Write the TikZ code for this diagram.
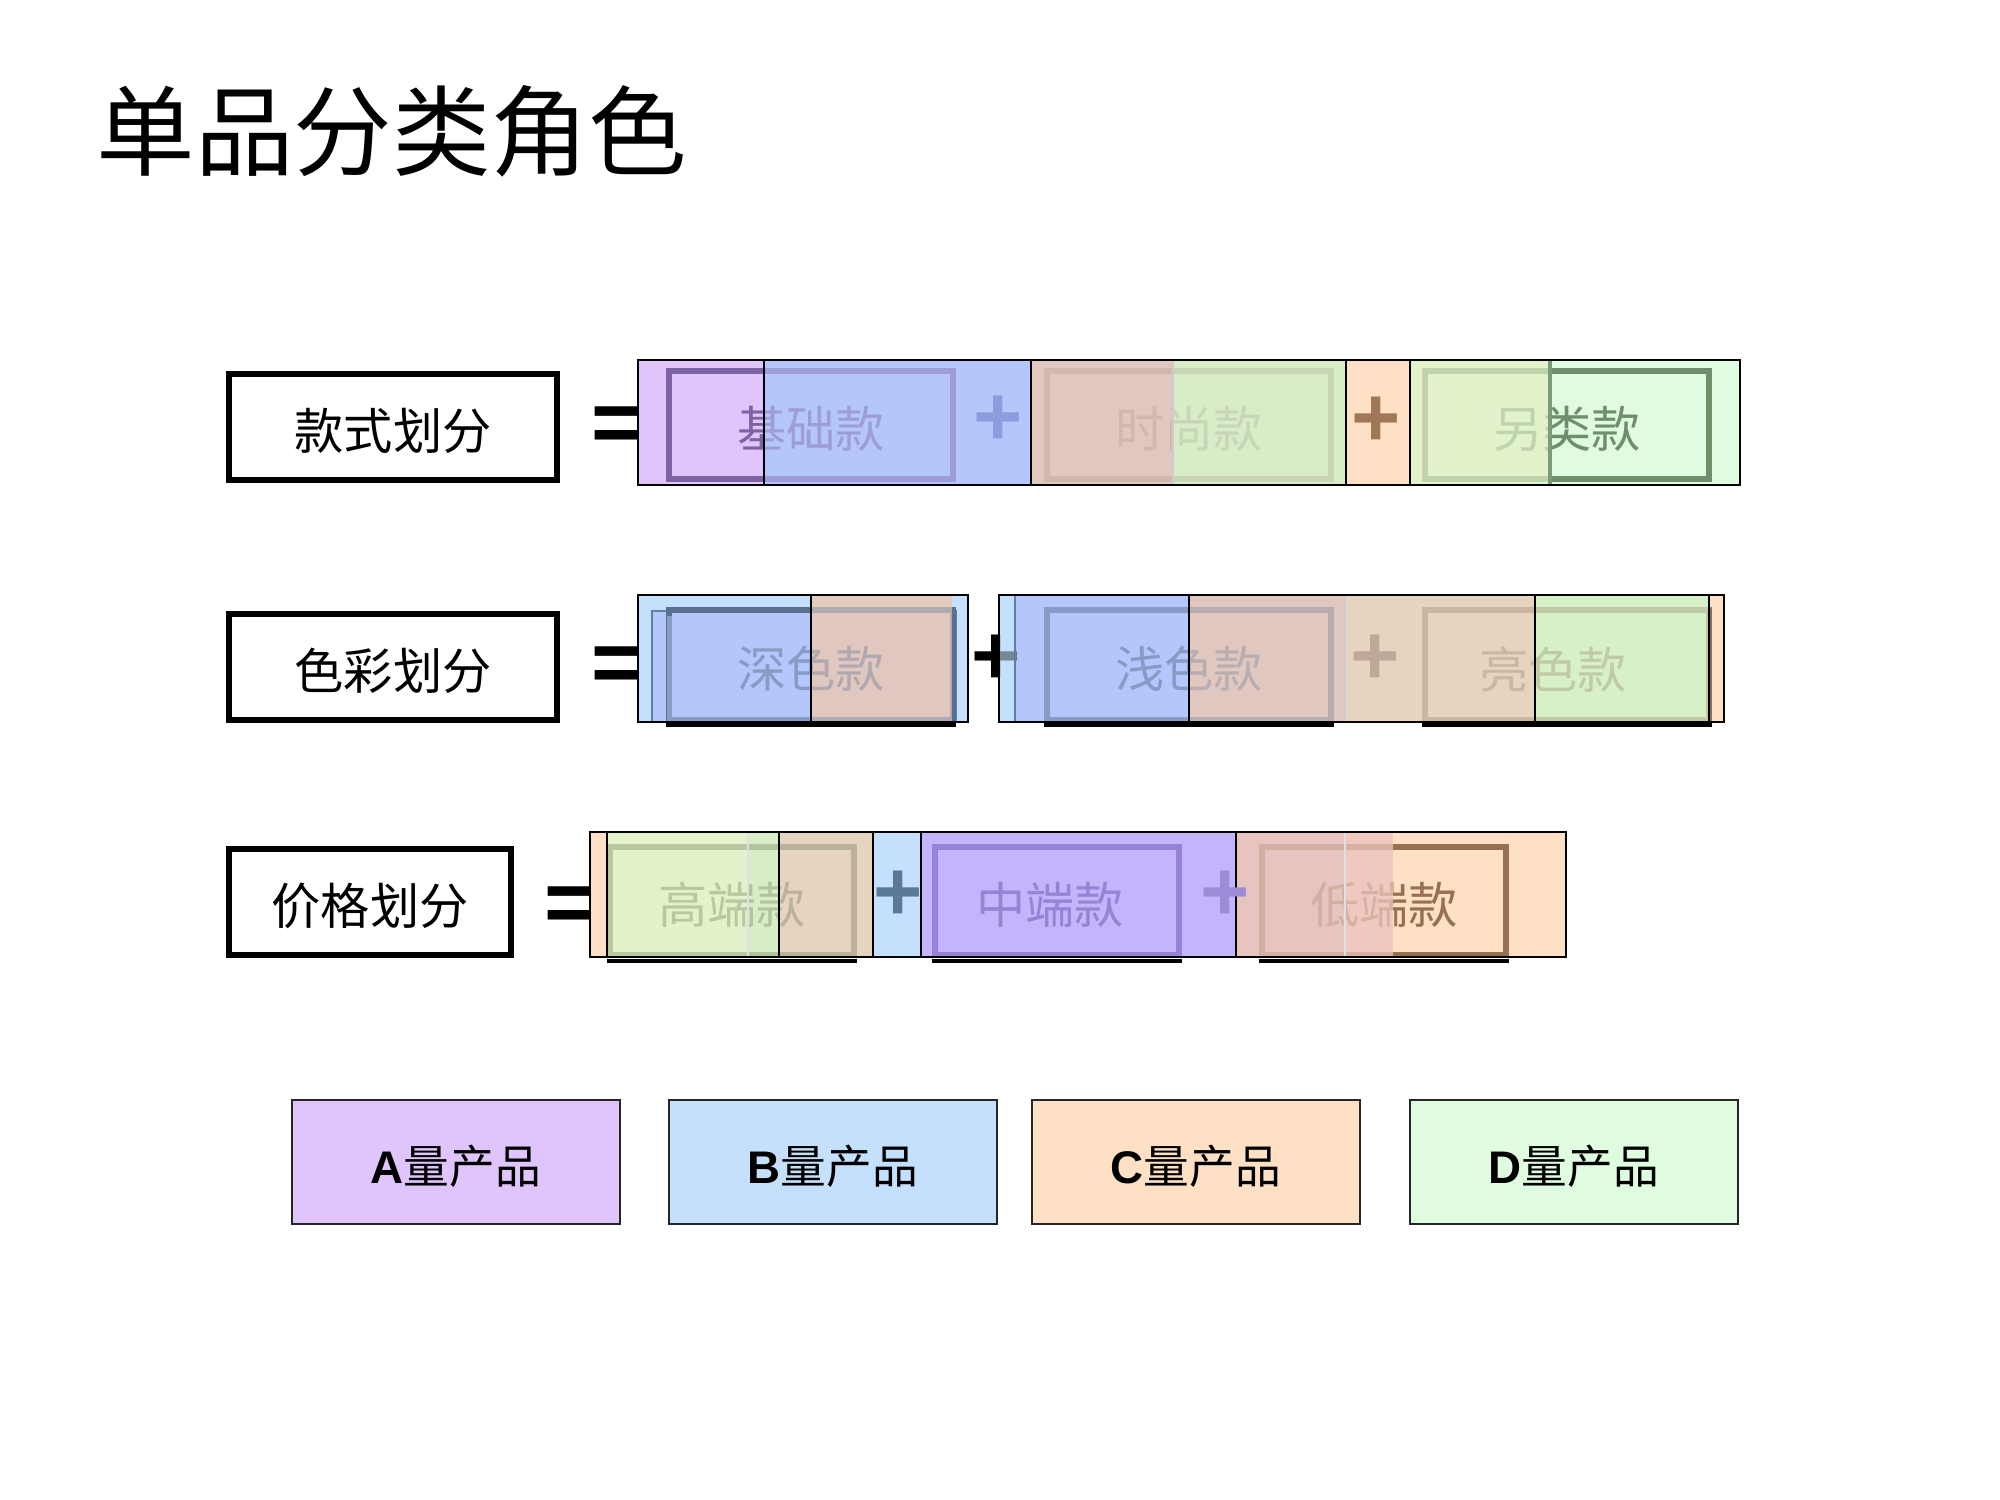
\documentclass[tikz,border=0pt]{standalone}
\usepackage{fontspec}
\setmainfont{Liberation Sans}
\newfontfamily\cjk{Noto Sans CJK SC}
\usetikzlibrary{positioning}

\definecolor{prodA}{HTML}{E0C4FC}
\definecolor{prodB}{HTML}{C4E0FC}
\definecolor{prodC}{HTML}{FEE0C4}
\definecolor{prodD}{HTML}{E0FCE0}
\definecolor{mixBlue}{HTML}{B4C6FB}
\definecolor{mixPink}{HTML}{E0C8C0}
\definecolor{mixGreen}{HTML}{D8ECC8}
\definecolor{mixYellow}{HTML}{E2F2CA}
\definecolor{mixTan}{HTML}{E6D4C0}
\definecolor{mixLime}{HTML}{D8F0C8}
\definecolor{mixPurple}{HTML}{C4B4FC}
\definecolor{mixRose}{HTML}{E8C4C0}
\definecolor{mixRed}{HTML}{F0C8C0}
% ink of the part boxes
\definecolor{inkBasic}{HTML}{7C64A4}
\definecolor{inkFashion}{HTML}{755D55}
\definecolor{inkSpecial}{HTML}{6E8E6C}
\definecolor{inkSteel}{HTML}{5A7090}
\definecolor{inkBright}{HTML}{8A7060}
\definecolor{inkHigh}{HTML}{56663E}
\definecolor{inkMiddle}{HTML}{6A50B0}
\definecolor{inkLow}{HTML}{967050}
\definecolor{lineGreen}{HTML}{7A9A78}
\definecolor{lineSteel}{HTML}{6080A0}
\definecolor{plusBlue}{HTML}{8C9CDE}
\definecolor{plusBrown}{HTML}{A07858}
\definecolor{plusTan}{HTML}{C0A898}
\definecolor{plusSteel}{HTML}{5A7898}
\definecolor{plusPurple}{HTML}{9C8CD8}

% text set a little lower in its box
\newcommand\sinktext[1]{\raisebox{-1.2pt}[\height][\depth]{#1}}

\begin{document}
\begin{tikzpicture}[
    x=0.01cm, y=-0.01cm,
    labelbox/.style={rectangle, draw, line width=1.7pt, minimum height=1.06cm, inner sep=0pt, font=\cjk\fontsize{14}{16}\selectfont},
    partbox/.style={rectangle, draw=#1, text=#1, line width=1.7pt, minimum width=2.83cm, minimum height=1.07cm, inner sep=0pt, font=\cjk\fontsize{14}{16}\selectfont},
    prodbox/.style={rectangle, draw=black!85, line width=0.7pt, fill=#1, minimum width=3.28cm, minimum height=1.24cm, font=\bfseries\fontsize{13}{15}\selectfont},
    eqsign/.style={inner sep=0pt, font=\bfseries\fontsize{25}{25}\selectfont},
    plussign/.style={inner sep=0pt, text=#1, font=\bfseries\fontsize{24}{24}\selectfont},
    wash/.style={fill=#1, fill opacity=0.7},
    stripline/.style={draw, line width=0.7pt},
    divider/.style={line width=0.6pt},
    ]
    \useasboundingbox (0,0) rectangle (2000,1500);

    % Title
    \node[font=\cjk\fontsize{28}{30}\selectfont] (title) at (392,131) {单品分类角色};

    % Row labels
    \node[labelbox, minimum width=3.27cm] (style) at (393,427) {\sinktext{款式划分}};
    \node[labelbox, minimum width=3.27cm] (colour) at (393,667) {\sinktext{色彩划分}};
    \node[labelbox, minimum width=2.81cm] (price) at (370,902) {\sinktext{价格划分}};

    % Equal signs
    \node[eqsign] (eq1) at (617,430) {=};
    \node[eqsign] (eq2) at (617,670) {=};
    \node[eqsign] (eq3) at (570,910) {=};

    % Style row
    \fill[prodA] (638,360) rectangle (764,485);
    \fill[mixBlue] (764,360) rectangle (1031,485);
    \fill[mixPink] (1031,360) rectangle (1173,485);
    \fill[mixGreen] (1173,360) rectangle (1346,485);
    \fill[prodC] (1346,360) rectangle (1410,485);
    \fill[mixYellow] (1410,360) rectangle (1550,485);
    \fill[prodD] (1550,360) rectangle (1740,485);
    \node[partbox=inkBasic] (basic) at (811,425) {\sinktext{基础款}};
    \node[partbox=inkFashion] (fashion) at (1189,425) {\sinktext{时尚款}};
    \node[partbox=inkSpecial] (special) at (1567,425) {\sinktext{另类款}};
    \fill[wash=mixBlue, fill opacity=0.6] (764,360) rectangle (1031,485);
    \fill[wash=mixPink, fill opacity=0.85] (1031,360) rectangle (1173,485);
    \fill[wash=mixGreen, fill opacity=0.85] (1173,360) rectangle (1346,485);
    \fill[wash=mixYellow] (1410,360) rectangle (1550,485);
    \draw[divider] (764,360) -- (764,485);
    \draw[divider] (1031,360) -- (1031,485);
    \draw[divider, draw=black!20] (1173,360) -- (1173,485);
    \draw[divider] (1346,360) -- (1346,485);
    \draw[divider] (1410,360) -- (1410,485);
    \draw[divider, draw=lineGreen, line width=1.2pt] (1550,360) -- (1550,485);
    \draw[stripline] (638,360) rectangle (1740,485);
    \node[plussign=plusBlue] (plus1) at (998,421) {+};
    \node[plussign=plusBrown] (plus2) at (1376,422) {+};

    % Colour row, left part
    \fill[prodB] (638,595) rectangle (968,722);
    \fill[mixBlue] (652,611) rectangle (811,722);
    \fill[mixTan] (811,595) rectangle (952,611);
    \fill[mixPink] (811,611) rectangle (952,722);
    \draw[line width=0.6pt, draw=lineSteel] (652,611) rectangle (956,722);
    \node[partbox=inkSteel, minimum height=1.09cm] (deep) at (811,665) {\sinktext{深色款}};
    \fill[wash=mixBlue, fill opacity=0.5] (667,616) rectangle (811,722);
    \fill[wash=mixPink, fill opacity=0.65] (811,595) rectangle (952,722);
    \draw[divider] (811,595) -- (811,722);
    \draw[stripline] (638,595) rectangle (968,722);
    \draw[line width=1.2pt] ([yshift=-0.6pt]deep.south west) -- ([yshift=-0.6pt]deep.south east);

    % Colour row, right part
    \fill[prodB] (999,595) rectangle (1015,722);
    \fill[mixBlue] (1015,595) rectangle (1189,722);
    \fill[mixPink] (1189,595) rectangle (1347,722);
    \fill[mixTan] (1347,595) rectangle (1535,722);
    \fill[mixLime] (1535,595) rectangle (1709,722);
    \fill[prodC] (1709,595) rectangle (1724,722);
    \node[plussign=black] (plus3) at (996,660) {+};
    \node[partbox=inkSteel, minimum height=1.09cm] (light) at (1189,665) {\sinktext{浅色款}};
    \node[partbox=inkBright, minimum height=1.09cm] (bright) at (1567,665) {\sinktext{亮色款}\hspace*{0.28cm}};
    \fill[wash=prodB, fill opacity=0.6] (999,595) rectangle (1015,722);
    \fill[wash=mixBlue, fill opacity=0.5] (1015,595) rectangle (1189,722);
    \fill[wash=mixPink] (1189,595) rectangle (1347,722);
    \fill[wash=mixTan] (1347,595) rectangle (1535,722);
    \fill[wash=mixLime] (1535,595) rectangle (1709,722);
    \draw[divider, draw=lineSteel] (1015,595) -- (1015,722);
    \draw[divider] (1189,595) -- (1189,722);
    \draw[divider, draw=black!15] (1347,595) -- (1347,722);
    \draw[divider] (1535,595) -- (1535,722);
    \draw[divider] (1709,595) -- (1709,722);
    \draw[stripline] (999,595) rectangle (1724,722);
    \draw[line width=1.2pt] ([yshift=-0.6pt]light.south west) -- ([yshift=-0.6pt]light.south east);
    \draw[line width=1.2pt] ([yshift=-0.6pt]bright.south west) -- ([yshift=-0.6pt]bright.south east);
    \node[plussign=plusTan] (plus4) at (1375,660) {+};

    % Price row
    \fill[prodC] (590,832) rectangle (607,957);
    \fill[mixYellow] (607,832) rectangle (748,957);
    \fill[mixGreen] (748,832) rectangle (779,957);
    \fill[mixTan] (779,832) rectangle (873,957);
    \fill[prodB] (873,832) rectangle (921,957);
    \fill[mixPurple] (921,832) rectangle (1236,957);
    \fill[mixRose] (1236,832) rectangle (1345,957);
    \fill[mixRed] (1345,832) rectangle (1393,957);
    \fill[prodC] (1393,832) rectangle (1566,957);
    \node[partbox=inkHigh, minimum width=2.44cm] (high) at (732,901) {\sinktext{高端款}};
    \node[partbox=inkMiddle, minimum width=2.44cm] (middle) at (1057,901) {\sinktext{中端款}\hspace*{0.14cm}};
    \node[partbox=inkLow, minimum width=2.44cm] (low) at (1384,901) {\sinktext{低端款}};
    \fill[wash=mixYellow] (607,832) rectangle (748,957);
    \fill[wash=mixGreen] (748,832) rectangle (779,957);
    \fill[wash=mixTan] (779,832) rectangle (873,957);
    \fill[wash=mixPurple, fill opacity=0.5] (921,832) rectangle (1236,957);
    \fill[wash=mixRose, fill opacity=0.75] (1236,832) rectangle (1345,957);
    \fill[wash=mixRed, fill opacity=0.75] (1345,832) rectangle (1393,957);
    \draw[divider] (607,832) -- (607,957);
    \draw[divider, draw=black!12] (748,832) -- (748,957);
    \draw[divider] (779,832) -- (779,957);
    \draw[divider] (873,832) -- (873,957);
    \draw[divider] (921,832) -- (921,957);
    \draw[divider] (1236,832) -- (1236,957);
    \draw[divider, draw=black!12] (1345,832) -- (1345,957);
    \draw[stripline] (590,832) rectangle (1566,957);
    \draw[line width=1.2pt] ([yshift=-1pt]high.south west) -- ([yshift=-1pt]high.south east);
    \draw[line width=1.2pt] ([yshift=-1pt]middle.south west) -- ([yshift=-1pt]middle.south east);
    \draw[line width=1.2pt] ([yshift=-1pt]low.south west) -- ([yshift=-1pt]low.south east);
    \node[plussign=plusSteel] (plus5) at (898,896) {+};
    \node[plussign=plusPurple] (plus6) at (1225,896) {+};

    % Product classes
    \node[prodbox=prodA] (classA) at (456,1162) {\sinktext{A{\cjk\mdseries 量产品}}};
    \node[prodbox=prodB] (classB) at (833,1162) {\sinktext{B{\cjk\mdseries 量产品}}};
    \node[prodbox=prodC] (classC) at (1196,1162) {\sinktext{C{\cjk\mdseries 量产品}}};
    \node[prodbox=prodD] (classD) at (1574,1162) {\sinktext{D{\cjk\mdseries 量产品}}};

\end{tikzpicture}
\end{document}
